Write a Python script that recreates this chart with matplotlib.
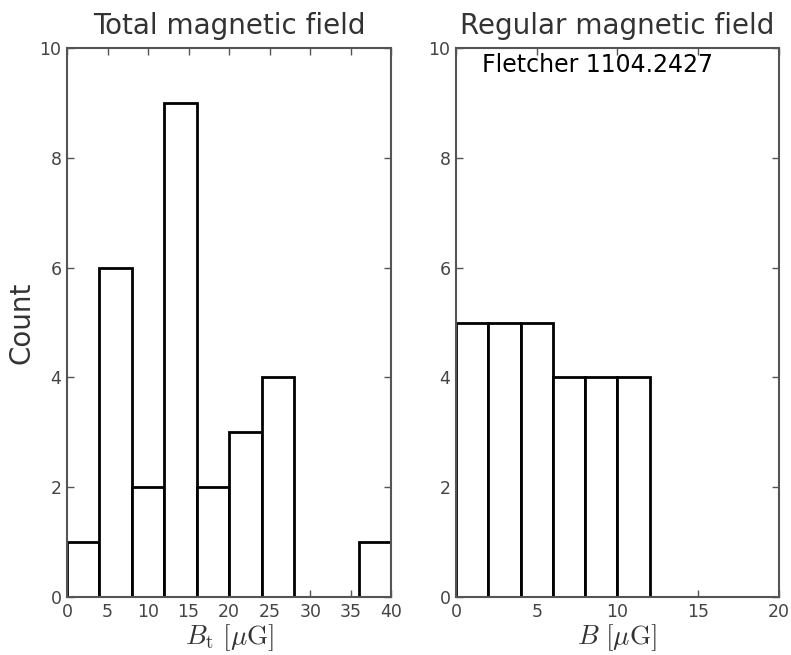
import matplotlib
matplotlib.use("Agg")
import matplotlib.pyplot as plt
import numpy as np

plt.rcParams['mathtext.fontset'] = 'cm'

# Total field histogram: bin edges and counts
total_edges = [0, 4, 8, 12, 16, 20, 24, 28, 32, 36, 40]
total_counts = [1, 6, 2, 9, 2, 3, 4, 0, 0, 1]

# Regular field histogram
regular_edges = [0, 2, 4, 6, 8, 10, 12, 14, 16, 18, 20]
regular_counts = [5, 5, 5, 4, 4, 4, 0, 0, 0, 0]

total_xticks = [0, 5, 10, 15, 20, 25, 30, 35, 40]
regular_xticks = [0, 5, 10, 15, 20]
yticks = [0, 2, 4, 6, 8, 10]

fig = plt.figure(figsize=(7.91, 6.55), dpi=100)
ax1 = fig.add_axes([0.0847, 0.0885, 0.410, 0.838])
ax2 = fig.add_axes([0.5765, 0.0885, 0.408, 0.838])

spine_col = '#555555'
tick_col = '#444444'


def draw_hist(ax, edges, counts, xticks, xlabel, title):
    edges = np.asarray(edges, dtype=float)
    ax.bar(edges[:-1], counts, width=np.diff(edges), align='edge',
           facecolor='white', edgecolor='black', linewidth=2.0, zorder=2)
    ax.set_xlim(edges[0], edges[-1])
    ax.set_ylim(0, 10)
    ax.set_xticks(xticks)
    ax.set_yticks(yticks)
    ax.tick_params(direction='in', top=True, right=True, length=5,
                   width=1, colors=spine_col, labelcolor=tick_col,
                   labelsize=12.5, pad=4)
    for s in ax.spines.values():
        s.set_color(spine_col)
        s.set_linewidth(1.5)
    ax.set_xlabel(xlabel, fontsize=19.5, color='#333333', labelpad=1)
    ax.set_title(title, fontsize=20, color='#333333', pad=10)


draw_hist(ax1, total_edges, total_counts, total_xticks,
          r'$B_{\rm t}\ [\mu{\rm G}]$', 'Total magnetic field')
draw_hist(ax2, regular_edges, regular_counts, regular_xticks,
          r'$B\ [\mu{\rm G}]$', 'Regular magnetic field')
ax1.set_ylabel('Count', fontsize=20, color='#333333', labelpad=3)

ax2.text(8.75, 9.7, 'Fletcher 1104.2427', ha='center', va='center',
         fontsize=17, color='black', family='DejaVu Sans')

fig.savefig('out.png', dpi=100, facecolor='white')
